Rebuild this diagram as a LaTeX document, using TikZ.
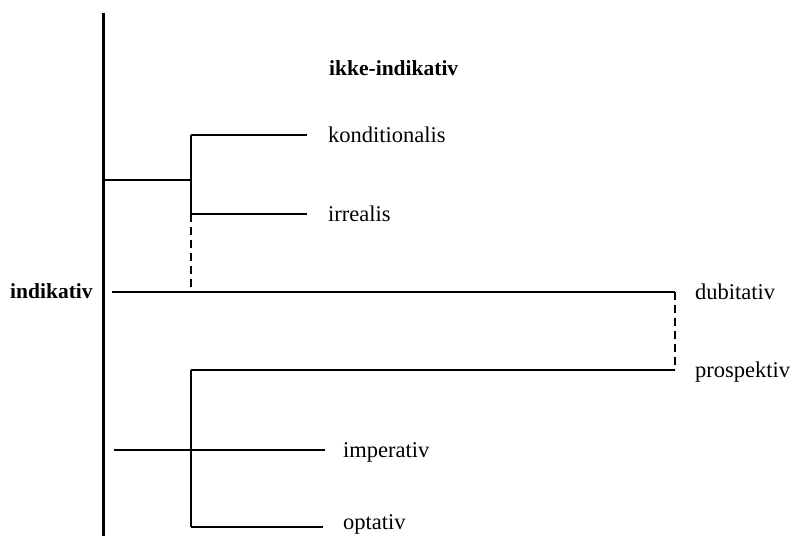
\documentclass[tikz,border=0pt]{standalone}
\usepackage{fontspec}
\setmainfont{Liberation Serif}
\begin{document}
\begin{tikzpicture}[x=1pt,y=-1pt,
  lbl/.style={anchor=base west,inner sep=0pt,font=\fontsize{22.5}{27}\selectfont},
  blbl/.style={anchor=base west,inner sep=0pt,font=\fontsize{21.5}{26}\selectfont\bfseries},
  hline/.style={line width=1.5pt},
  vline/.style={line width=2.6pt},
  mainline/.style={line width=3pt},
  dashline/.style={line width=2.6pt,dash pattern=on 8pt off 5pt}]
\useasboundingbox (0,0) rectangle (794,535);
% coordinates
\coordinate (top) at (103,13);
\coordinate (bot) at (103,536);
\coordinate (a1) at (104,180);
\coordinate (a2) at (191,180);
\coordinate (k0) at (191,135);
\coordinate (k1) at (307,135);
\coordinate (i0) at (191,214);
\coordinate (i1) at (307,214);
\coordinate (d0) at (191,292);
\coordinate (ind0) at (112,292);
\coordinate (ind1) at (675,292);
\coordinate (p1) at (675,370);
\coordinate (p0) at (191,370);
\coordinate (o0) at (191,527);
\coordinate (o1) at (323,527);
\coordinate (im0) at (114,450);
\coordinate (im1) at (325,450);
% labels
\node[blbl] (ikke) at (329,75) {ikke-indikativ};
\node[lbl] (kond) at (328,142) {konditionalis};
\node[lbl] (irr) at (328,221) {irrealis};
\node[blbl] (indik) at (10,298) {indikativ};
\node[lbl] (dub) at (695,299) {dubitativ};
\node[lbl] (prosp) at (695,377) {prospektiv};
\node[lbl] (imp) at (343,457) {imperativ};
\node[lbl] (opt) at (343,529) {optativ};
% lines
\draw[mainline] (top) -- (bot);
\draw[hline] (a1) -- (a2);
\draw[vline] (k0) -- (i0);
\draw[hline] (k0) -- (k1);
\draw[hline] (i0) -- (i1);
\draw[dashline] (i0) -- (d0);
\draw[hline] (ind0) -- (ind1);
\draw[dashline] (ind1) -- (p1);
\draw[hline] (p1) -- (p0);
\draw[vline] (p0) -- (o0);
\draw[hline] (o0) -- (o1);
\draw[hline] (im0) -- (im1);
\end{tikzpicture}
\end{document}
